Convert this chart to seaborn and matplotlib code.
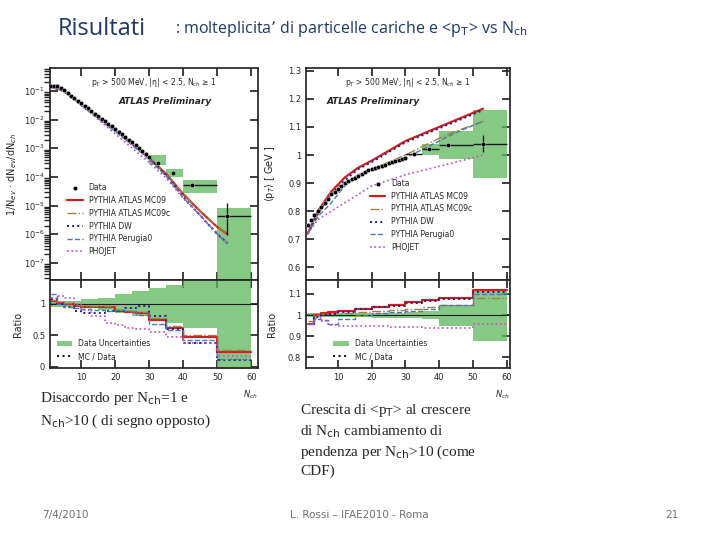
import numpy as np
import pandas as pd
import matplotlib
matplotlib.use("Agg")
import matplotlib.pyplot as plt
import seaborn as sns

sns.set_theme(style="ticks")
plt.rcParams['font.family'] = ['DejaVu Sans']

# ---- left: multiplicity ----
nch_pts = list(range(1, 31)) + [32.5, 37, 42.5, 53]
mult_log = [-0.82, -0.82, -0.84, -0.9, -0.98, -1.07, -1.16, -1.25, -1.34, -1.43, -1.52, -1.61,
            -1.70, -1.79, -1.88, -1.97, -2.06, -2.15, -2.24, -2.33, -2.42, -2.51, -2.60, -2.70,
            -2.80, -2.90, -3.0, -3.1, -3.2, -3.3, -3.5, -3.88, -4.3, -5.35]
mult_band_lo = [30, 35, 40, 50]
mult_band_hi = [35, 40, 50, 60]
mult_band_log_lo = [-3.6, -4.0, -4.55, -8.0]
mult_band_log_hi = [-3.25, -3.72, -4.1, -5.1]
mc_x = [1, 5, 10, 15, 20, 25, 30, 35, 40, 45, 50, 53]
mc_left = {
    "PYTHIA ATLAS MC09":  [-0.85, -1.0, -1.47, -1.93, -2.38, -2.85, -3.35, -3.9, -4.6, -5.2, -5.75, -6.0],
    "PYTHIA ATLAS MC09c": [-0.85, -1.0, -1.47, -1.93, -2.38, -2.85, -3.35, -3.9, -4.6, -5.2, -5.75, -6.0],
    "PYTHIA DW":          [-0.84, -1.02, -1.5, -1.96, -2.4, -2.85, -3.35, -3.95, -4.7, -5.35, -6.0, -6.3],
    "PYTHIA Perugia0":    [-0.8, -1.02, -1.5, -1.97, -2.42, -2.9, -3.4, -3.98, -4.72, -5.35, -6.0, -6.35],
    "PHOJET":             [-0.83, -0.98, -1.5, -2.0, -2.5, -3.0, -3.5, -4.05, -4.75, -5.35, -5.95, -6.3],
}
rl_x = [1, 3, 5, 8, 10, 13, 17, 20, 23, 26, 30, 35, 40, 50, 60]
ratio_left = {
    "PYTHIA ATLAS MC09":  [1.05, 1.02, 1.0, 0.97, 0.95, 0.95, 0.95, 0.88, 0.87, 0.85, 0.75, 0.62, 0.47, 0.23, 0.23],
    "PYTHIA ATLAS MC09c": [1.06, 1.03, 1.01, 0.98, 0.96, 0.96, 0.96, 0.9, 0.89, 0.87, 0.78, 0.65, 0.5, 0.26, 0.26],
    "PYTHIA DW":          [1.08, 1.0, 0.95, 0.88, 0.85, 0.85, 0.88, 0.88, 0.93, 0.97, 0.8, 0.6, 0.38, 0.1, 0.1],
    "PYTHIA Perugia0":    [1.15, 1.0, 0.95, 0.93, 0.92, 0.9, 0.88, 0.9, 0.88, 0.82, 0.68, 0.58, 0.42, 0.12, 0.12],
    "PHOJET":             [1.1, 1.12, 1.1, 1.0, 0.9, 0.8, 0.7, 0.66, 0.62, 0.6, 0.55, 0.48, 0.38, 0.17, 0.17],
}
bl_x = [1, 5, 10, 15, 20, 25, 30, 35, 40, 50, 60]
band_left_hw = [0.05, 0.05, 0.07, 0.1, 0.15, 0.2, 0.25, 0.3, 0.38, 1.5, 1.5]

# ---- right: <pT> ----
pt_x = list(range(1, 31)) + [32.5, 37, 42.5, 53]
pt_y = [0.75, 0.77, 0.785, 0.80, 0.815, 0.83, 0.845, 0.86, 0.87, 0.88, 0.89, 0.9, 0.908, 0.915,
        0.92, 0.927, 0.933, 0.94, 0.945, 0.95, 0.954, 0.958, 0.962, 0.966, 0.97, 0.974, 0.978,
        0.982, 0.986, 0.99, 1.005, 1.02, 1.035, 1.04]
pt_band_lo = [35, 40, 50]
pt_band_hi = [40, 50, 60]
pt_band_y_lo = [1.0, 0.985, 0.92]
pt_band_y_hi = [1.04, 1.085, 1.16]
mc_r_x = [1, 4, 8, 12, 16, 20, 25, 30, 35, 40, 45, 53]
mc_right = {
    "PYTHIA ATLAS MC09":  [0.72, 0.80, 0.87, 0.92, 0.955, 0.98, 1.015, 1.05, 1.075, 1.1, 1.125, 1.165],
    "PYTHIA ATLAS MC09c": [0.72, 0.79, 0.86, 0.9, 0.93, 0.95, 0.975, 1.0, 1.03, 1.06, 1.085, 1.12],
    "PYTHIA DW":          [0.72, 0.79, 0.86, 0.91, 0.95, 0.975, 1.01, 1.045, 1.07, 1.095, 1.12, 1.16],
    "PYTHIA Perugia0":    [0.72, 0.78, 0.83, 0.89, 0.925, 0.95, 0.97, 0.99, 1.02, 1.05, 1.08, 1.12],
    "PHOJET":             [0.72, 0.77, 0.8, 0.83, 0.86, 0.89, 0.91, 0.93, 0.945, 0.96, 0.975, 1.0],
}
rr_x = [1, 3, 5, 7, 10, 15, 20, 25, 30, 35, 40, 50, 60]
ratio_right = {
    "PYTHIA ATLAS MC09":  [0.96, 1.0, 1.01, 1.015, 1.02, 1.03, 1.04, 1.05, 1.06, 1.07, 1.08, 1.12, 1.12],
    "PYTHIA ATLAS MC09c": [0.97, 1.0, 1.005, 1.007, 1.01, 1.015, 1.02, 1.025, 1.03, 1.04, 1.05, 1.08, 1.08],
    "PYTHIA DW":          [0.96, 0.99, 1.0, 1.005, 1.015, 1.03, 1.04, 1.045, 1.055, 1.065, 1.075, 1.11, 1.11],
    "PYTHIA Perugia0":    [0.96, 0.98, 0.975, 0.96, 0.98, 1.0, 1.01, 1.015, 1.02, 1.03, 1.05, 1.1, 1.1],
    "PHOJET":             [0.96, 0.985, 0.97, 0.955, 0.95, 0.95, 0.95, 0.945, 0.945, 0.94, 0.94, 0.96, 0.96],
}
br_x = [1, 10, 20, 30, 35, 40, 50, 60]
band_right_hw = [0.01, 0.01, 0.012, 0.015, 0.02, 0.05, 0.12, 0.12]

styles = {
    "PYTHIA ATLAS MC09":  dict(color="#cc2020", ls="-", lw=1.6),
    "PYTHIA ATLAS MC09c": dict(color="#a08040", ls="-.", lw=1.0),
    "PYTHIA DW":          dict(color="#202090", ls=":", lw=1.4),
    "PYTHIA Perugia0":    dict(color="#4a7ab0", ls="--", lw=1.0),
    "PHOJET":             dict(color="#c050c0", ls=":", lw=1.2),
}
green = "#5cb85c"

fig = plt.figure(figsize=(7.2, 5.4), dpi=100)
fig.text(0.08, 0.935, "Risultati", fontsize=17, color="#1f3864", family="Open Sans")
fig.text(0.243, 0.938, ": molteplicita’ di particelle cariche e <p$_\\mathrm{T}$> vs N$_\\mathrm{ch}$",
         fontsize=11.5, color="#1f3864", family="Open Sans")

def panel(left, right, main_bottom, main_top, rat_bottom):
    w = right - left
    axm = fig.add_axes([left, 1 - main_bottom, w, main_bottom - main_top])
    axr = fig.add_axes([left, 1 - rat_bottom, w, rat_bottom - main_bottom], sharex=axm)
    return axm, axr

# Left
axm, axr = panel(50/720, 258/720, 280/540, 68/540, 368/540)
for i in range(4):
    axm.fill_between([mult_band_lo[i], mult_band_hi[i]], 10**mult_band_log_lo[i], 10**mult_band_log_hi[i],
                     color=green, alpha=0.75, lw=0)
for name, vals in mc_left.items():
    sns.lineplot(x=mc_x, y=10**np.array(vals), ax=axm, label=name, **styles[name])
dfl = pd.DataFrame({"x": nch_pts, "y": 10**np.array(mult_log)})
sns.scatterplot(data=dfl, x="x", y="y", ax=axm, color="black", s=10, zorder=5, label="Data")
axm.errorbar([42.5, 53], [10**-4.3, 10**-5.35], xerr=[[2.5, 3], [7.5, 7]], yerr=[[0, 0], [0, 0]], fmt="none", color="k", lw=1)
axm.errorbar([53], [10**-5.35], yerr=[[3.5e-6], [8e-6]], fmt="none", color="k", lw=1)
axm.set_yscale("log")
axm.set_ylim(10**-7.6, 10**-0.2)
axm.set_xlim(0.8, 62)
axm.set_ylabel("1/N$_{ev}$ · dN$_{ev}$/dN$_{ch}$", fontsize=7)
axm.yaxis.set_label_coords(-0.15, 0.5)
axm.set_xlabel("")
axm.text(0.5, 0.92, "p$_T$ > 500 MeV, |η| < 2.5, N$_{ch}$ ≥ 1", transform=axm.transAxes, fontsize=5.5, ha="center")
axm.text(0.33, 0.83, "ATLAS Preliminary", transform=axm.transAxes, fontsize=6.5, style="italic", weight="bold")
h, l = axm.get_legend_handles_labels()
order = [5, 0, 1, 2, 3, 4]
axm.legend([h[i] for i in order], [l[i] for i in order], loc="lower left", bbox_to_anchor=(0.05, 0.08), fontsize=5.5, frameon=False)
axm.tick_params(labelsize=6, labelbottom=False, direction="in", top=True, right=True)

axr.fill_between(bl_x, 1 - np.array(band_left_hw), 1 + np.array(band_left_hw), step="post", color=green, alpha=0.75, lw=0, label="Data Uncertainties")
axr.axhline(1, color="k", lw=0.8)
for name, vals in ratio_left.items():
    axr.step(rl_x, vals, where="post", **styles[name])
axr.plot([], [], color="k", ls=":", label="MC / Data")
axr.set_ylim(-0.02, 1.38)
axr.set_yticks([0, 0.5, 1])
axr.set_yticklabels(["0", "0.5", "1"])
axr.set_ylabel("Ratio", fontsize=7)
axr.yaxis.set_label_coords(-0.13, 0.5)
axr.set_xticks([10, 20, 30, 40, 50, 60])
axr.legend(loc="lower left", fontsize=5.5, frameon=False)
axr.tick_params(labelsize=6, direction="in", top=True, right=True)
axr.text(1.0, -0.33, "N$_{ch}$", transform=axr.transAxes, fontsize=6, ha="right", style="italic")

# Right
axm2, axr2 = panel(306/720, 510/720, 280/540, 68/540, 368/540)
for i in range(3):
    axm2.fill_between([pt_band_lo[i], pt_band_hi[i]], pt_band_y_lo[i], pt_band_y_hi[i], color=green, alpha=0.75, lw=0)
for name, vals in mc_right.items():
    sns.lineplot(x=mc_r_x, y=vals, ax=axm2, label=name, **styles[name])
dfr = pd.DataFrame({"x": pt_x, "y": pt_y})
sns.scatterplot(data=dfr, x="x", y="y", ax=axm2, color="black", s=10, zorder=5, label="Data")
axm2.errorbar([32.5, 37, 42.5, 53], pt_y[-4:], xerr=[[2.5, 2, 2.5, 3], [2.5, 3, 7.5, 7]], fmt="none", color="k", lw=1)
axm2.errorbar([53], [1.04], yerr=[[0.03], [0.03]], fmt="none", color="k", lw=1)
axm2.set_ylim(0.555, 1.31)
axm2.set_xlim(0.5, 61)
axm2.set_yticks([0.6, 0.7, 0.8, 0.9, 1.0, 1.1, 1.2, 1.3])
axm2.set_yticklabels(["0.6", "0.7", "0.8", "0.9", "1", "1.1", "1.2", "1.3"])
axm2.set_ylabel("⟨p$_T$⟩ [ GeV ]", fontsize=7)
axm2.yaxis.set_label_coords(-0.14, 0.5)
axm2.set_xlabel("")
axm2.text(0.5, 0.92, "p$_T$ > 500 MeV, |η| < 2.5, N$_{ch}$ ≥ 1", transform=axm2.transAxes, fontsize=5.5, ha="center")
axm2.text(0.1, 0.83, "ATLAS Preliminary", transform=axm2.transAxes, fontsize=6.5, style="italic", weight="bold")
h, l = axm2.get_legend_handles_labels()
axm2.legend([h[i] for i in order], [l[i] for i in order], loc="lower left", bbox_to_anchor=(0.28, 0.1), fontsize=5.5, frameon=False)
axm2.tick_params(labelsize=6, labelbottom=False, direction="in", top=True, right=True)

axr2.fill_between(br_x, 1 - np.array(band_right_hw), 1 + np.array(band_right_hw), step="post", color=green, alpha=0.75, lw=0, label="Data Uncertainties")
axr2.axhline(1, color="k", lw=0.8)
for name, vals in ratio_right.items():
    axr2.step(rr_x, vals, where="post", **styles[name])
axr2.plot([], [], color="k", ls=":", label="MC / Data")
axr2.set_ylim(0.75, 1.166)
axr2.set_yticks([0.8, 0.9, 1.0, 1.1])
axr2.set_yticklabels(["0.8", "0.9", "1", "1.1"])
axr2.set_ylabel("Ratio", fontsize=7)
axr2.yaxis.set_label_coords(-0.14, 0.5)
axr2.set_xticks([10, 20, 30, 40, 50, 60])
axr2.legend(loc="lower left", bbox_to_anchor=(0.1, 0.0), fontsize=5.5, frameon=False)
axr2.tick_params(labelsize=6, direction="in", top=True, right=True)
axr2.text(1.0, -0.33, "N$_{ch}$", transform=axr2.transAxes, fontsize=6, ha="right", style="italic")

# slide texts
fig.text(40/720, 1 - 410/540, "Disaccordo per N$_\\mathrm{ch}$=1 e\nN$_\\mathrm{ch}$>10 ( di segno opposto)",
         fontsize=11, family="Liberation Serif", va="center", linespacing=1.4)
fig.text(300/720, 1 - 440/540, "Crescita di <p$_\\mathrm{T}$> al crescere\ndi N$_\\mathrm{ch}$ cambiamento di\npendenza per N$_\\mathrm{ch}$>10 (come\nCDF)",
         fontsize=11, family="Liberation Serif", va="center", linespacing=1.35)
fig.text(42/720, 1 - 515/540, "7/4/2010", fontsize=7.5, color="#707070", va="center")
fig.text(290/720, 1 - 515/540, "L. Rossi – IFAE2010 - Roma", fontsize=7.5, color="#707070", va="center")
fig.text(665/720, 1 - 515/540, "21", fontsize=7.5, color="#707070", va="center")

fig.savefig("out.png", dpi=100)
